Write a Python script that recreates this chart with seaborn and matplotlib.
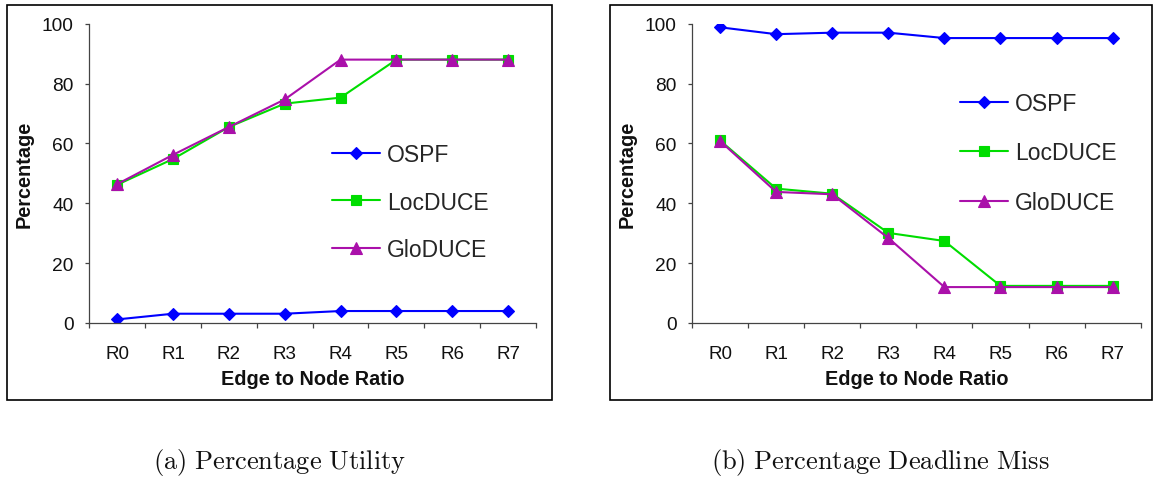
import matplotlib
matplotlib.use("Agg")
import matplotlib.pyplot as plt
from matplotlib.patches import Rectangle
import seaborn as sns
import numpy as np

categories = ["R0", "R1", "R2", "R3", "R4", "R5", "R6", "R7"]
series_names = ["OSPF", "LocDUCE", "GloDUCE"]

# (a) Percentage Utility
util_ospf = [1.2, 3.1, 3.1, 3.1, 4.0, 4.0, 4.0, 4.0]
util_loc = [46.2, 54.8, 65.5, 73.3, 75.3, 88.0, 88.0, 88.0]
util_glo = [46.4, 56.2, 65.5, 74.7, 88.0, 88.0, 88.0, 88.0]

# (b) Percentage Deadline Miss
miss_ospf = [98.8, 96.5, 97.0, 97.0, 95.2, 95.2, 95.2, 95.2]
miss_loc = [61.0, 44.9, 43.2, 30.1, 27.4, 12.4, 12.4, 12.4]
miss_glo = [60.8, 43.8, 43.0, 28.4, 12.0, 12.0, 12.0, 12.0]

y_ticks = [0, 20, 40, 60, 80, 100]
x_label = "Edge to Node Ratio"
y_label = "Percentage"
captions = ["(a) Percentage Utility", "(b) Percentage Deadline Miss"]

sns.set_theme(style="white")
plt.rcParams["font.family"] = ["Liberation Sans", "DejaVu Sans"]
plt.rcParams["mathtext.fontset"] = "cm"

W, H = 1153, 481
fig = plt.figure(figsize=(W / 100, H / 100), dpi=100)
fig.patch.set_facecolor("white")

colors = {"OSPF": "#0000FF", "LocDUCE": "#00DD00", "GloDUCE": "#AA10AA"}
markers = {"OSPF": "D", "LocDUCE": "s", "GloDUCE": "^"}
msizes = {"OSPF": 6.4, "LocDUCE": 7.6, "GloDUCE": 8.4}


def px_ax(l, r, t, b):
    return [l / W, 1 - b / H, (r - l) / W, (b - t) / H]


ax_specs = [
    dict(rect=px_ax(89.3, 536, 24.7, 324), data=[util_ospf, util_loc, util_glo],
         box=(6.7, 6, 552.3, 401), leg=(331.7, 203, 1.08), cap_x=279.5),
    dict(rect=px_ax(692, 1140.7, 24.7, 324), data=[miss_ospf, miss_loc, miss_glo],
         box=(609.5, 6, 1151.5, 401), leg=(959.8, 154, 1.16), cap_x=880.5),
]

x = np.arange(len(categories))

for i, spec in enumerate(ax_specs):
    ax = fig.add_axes(spec["rect"])
    ax.set_facecolor("white")
    for name, vals in zip(series_names, spec["data"]):
        sns.lineplot(x=x, y=vals, ax=ax, color=colors[name], marker=markers[name],
                     markersize=msizes[name], markeredgecolor=colors[name],
                     markeredgewidth=0.8, linewidth=1.5, label=name)
    ax.set_xlim(-0.5, len(categories) - 0.5)
    ax.set_ylim(0, 100)
    ax.set_yticks(y_ticks)
    ax.set_xticks(x)
    ax.set_xticklabels(categories)
    ax.set_xticks(np.arange(-0.5, len(categories), 1.0), minor=True)
    ax.tick_params(axis="x", which="major", length=0, pad=16, labelsize=13.5, colors="#111111")
    ax.tick_params(axis="x", which="minor", length=3.6, width=0.9, direction="out",
                   color="#444444", bottom=True)
    ax.tick_params(axis="y", which="major", length=3.2, width=0.9, direction="out",
                   pad=8, labelsize=13.8, colors="#111111", left=True)
    ax.tick_params(axis="y", which="major", color="#444444")
    for s in ["top", "right"]:
        ax.spines[s].set_visible(False)
    for s in ["left", "bottom"]:
        ax.spines[s].set_color("#444444")
        ax.spines[s].set_linewidth(0.9)
    ax.set_xlabel(x_label, fontsize=14.3, fontweight="bold", labelpad=5, color="#111111")
    ax.set_ylabel(y_label, fontsize=14.3, fontweight="bold", labelpad=6, color="#111111")
    ax.grid(False)

    lx, ly, lsp = spec["leg"]
    ax.legend(loc="center left", bbox_to_anchor=(lx / W, 1 - ly / H),
              bbox_transform=fig.transFigure, frameon=False, fontsize=16.5,
              handlelength=2.1, handletextpad=0.3, labelspacing=lsp,
              borderpad=0, borderaxespad=0)

    bx0, by0, bx1, by1 = spec["box"]
    fig.patches.append(Rectangle((bx0 / W, 1 - by1 / H), (bx1 - bx0) / W, (by1 - by0) / H,
                                 transform=fig.transFigure, fill=False,
                                 edgecolor="black", linewidth=1.2, zorder=10))

    cap = captions[i].replace(" ", r"\ ")
    fig.text(spec["cap_x"] / W, 1 - 463 / H, r"$\mathrm{" + cap + "}$",
             ha="center", va="center", fontsize=19, color="#111111")

fig.savefig("out.png", dpi=100, facecolor="white")
